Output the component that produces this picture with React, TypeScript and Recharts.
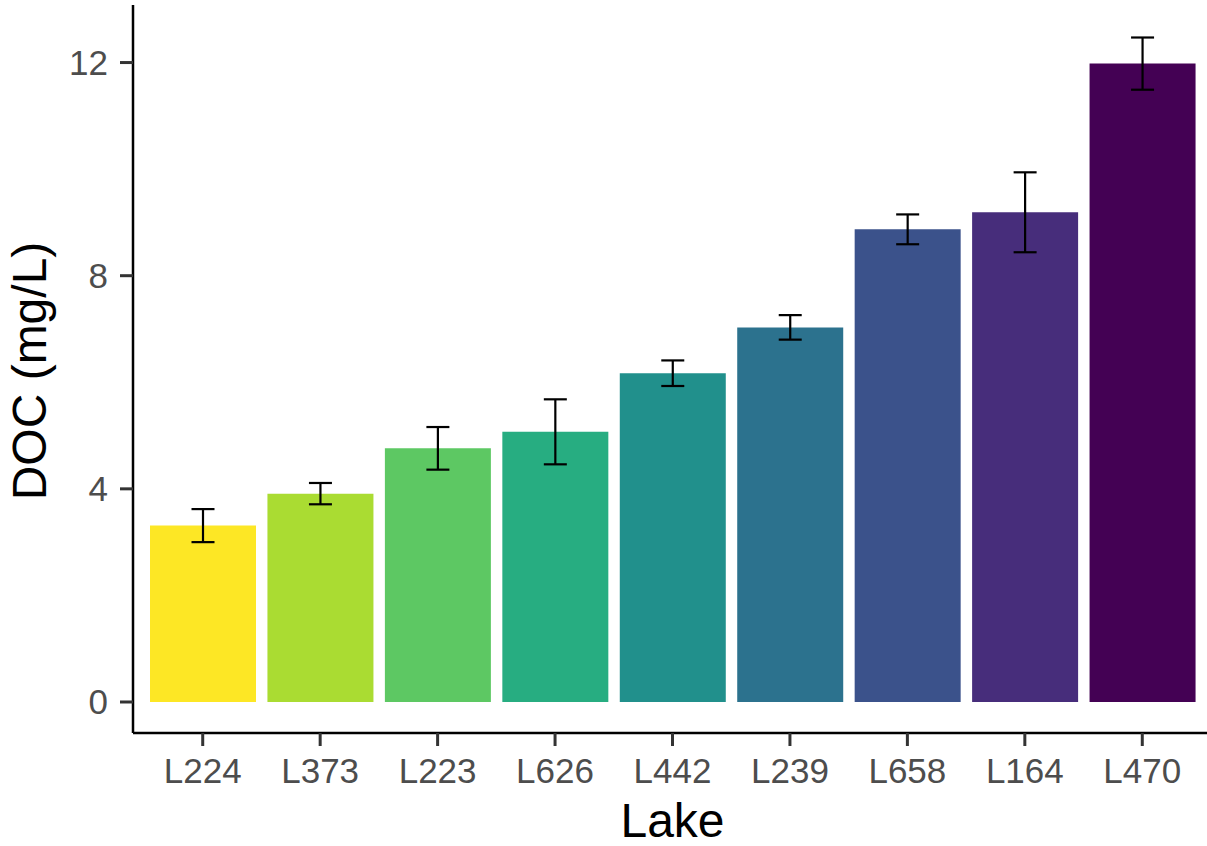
import React from 'react';
import { BarChart, Bar, XAxis, YAxis, ErrorBar, Cell, Label } from 'recharts';

const lakes = ['L224', 'L373', 'L223', 'L626', 'L442', 'L239', 'L658', 'L164', 'L470'];
const docMeans = [3.31, 3.91, 4.76, 5.07, 6.17, 7.03, 8.87, 9.19, 11.98];
const docErrors = [0.31, 0.2, 0.4, 0.61, 0.24, 0.23, 0.28, 0.75, 0.49];
const barColors = ['#FDE725', '#AADC32', '#5DC863', '#27AD81', '#21908C', '#2C728E', '#3B528B', '#472D7B', '#440154'];
const yTicks = [0, 4, 8, 12];

const data = lakes.map((lake, i) => ({ lake, doc: docMeans[i], err: docErrors[i] }));

const FONT = '"Liberation Sans", Arial, Helvetica, sans-serif';

const XTitle = (props: any) => {
  const vb = props.viewBox || {};
  const cx = vb.x + vb.width / 2;
  return (
    <text x={cx} y={837} textAnchor="middle" fontFamily={FONT} fontSize={48} fill="#000">
      Lake
    </text>
  );
};

const YTitle = (props: any) => {
  const vb = props.viewBox || {};
  const cy = vb.y + vb.height / 2 + 2;
  const bx = 46;
  return (
    <text
      x={bx}
      y={cy}
      textAnchor="middle"
      fontFamily={FONT}
      fontSize={48}
      fill="#000"
      transform={`rotate(-90, ${bx}, ${cy})`}
    >
      DOC (mg/L)
    </text>
  );
};

export default function App() {
  return (
    <div style={{ position: 'absolute', left: 0, top: 0, width: 1207, height: 846, overflow: 'hidden', background: '#fff' }}>
      <BarChart
        width={1225}
        height={846}
        data={data}
        margin={{ top: 5, right: 13, bottom: 0, left: 0 }}
        barSize={106}
      >
        <XAxis
          dataKey="lake"
          height={113}
          padding={{ left: 11, right: 11 }}
          tickSize={13}
          tickMargin={12}
          tick={{ fill: '#4D4D4D', fontSize: 35, fontFamily: FONT }}
          tickLine={{ stroke: '#333333', strokeWidth: 3 }}
          axisLine={{ stroke: '#000', strokeWidth: 2.5 }}
          interval={0}
        >
          <Label content={XTitle} />
        </XAxis>
        <XAxis
          xAxisId="top"
          dataKey="lake"
          orientation="top"
          height={0}
          padding={{ left: 11, right: 11 }}
          tick={false}
          tickLine={false}
          axisLine={{ stroke: '#000', strokeWidth: 2.5 }}
        />
        <YAxis
          type="number"
          width={133}
          domain={[-0.582, 13.08]}
          ticks={yTicks}
          allowDataOverflow
          tickSize={13}
          tickMargin={12}
          tick={{ fill: '#4D4D4D', fontSize: 35, fontFamily: FONT }}
          tickLine={{ stroke: '#333333', strokeWidth: 3 }}
          axisLine={{ stroke: '#000', strokeWidth: 2.5 }}
        >
          <Label content={YTitle} />
        </YAxis>
        <Bar dataKey="doc" isAnimationActive={false}>
          {data.map((d, i) => (
            <Cell key={d.lake} fill={barColors[i]} />
          ))}
          <ErrorBar dataKey="err" width={11.5} stroke="#000" strokeWidth={2.2} isAnimationActive={false} />
        </Bar>
      </BarChart>
    </div>
  );
}
